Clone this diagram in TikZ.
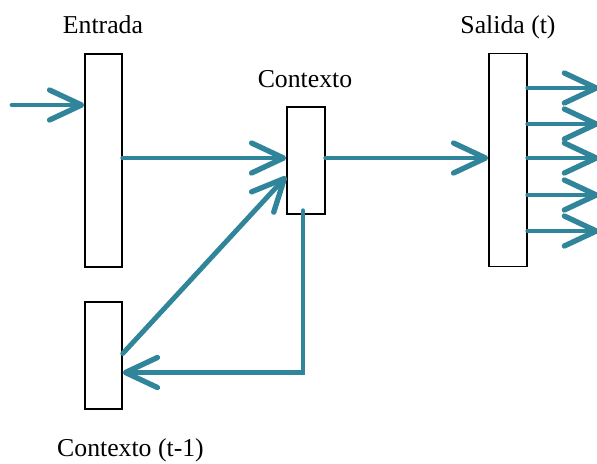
\documentclass[tikz,border=0pt]{standalone}
\usepackage{fontspec}
\setmainfont{Liberation Serif}
\usetikzlibrary{arrows.meta,calc}
\definecolor{azulflecha}{RGB}{49,133,155}

\begin{document}
\begin{tikzpicture}[x=0.025cm,y=-0.025cm,
    caja/.style={draw,line width=1.1pt,fill=white,minimum width=37*0.025cm,inner sep=0pt},
    flecha/.style={azulflecha,line width=3.5pt,line cap=round,
      -{Straight Barb[length=8mm,width=7.5mm,line width=3.8pt,line cap=round,line join=round]}},
    rotulo/.style={anchor=base,font=\fontsize{18.3}{22}\selectfont}]
  \useasboundingbox (0,0) rectangle (597,463);
  \node[caja,minimum height=213*0.025cm] (entrada) at (103.5,160.5) {};
  \node[caja,minimum height=107*0.025cm,minimum width=38*0.025cm] (contexto) at (306,160.5) {};
  \node[caja,minimum height=213*0.025cm,minimum width=38*0.025cm] (salida) at (508,160) {};
  \node[caja,minimum height=107*0.025cm] (previo) at (103.5,355.5) {};
  \node[rotulo] at (103,33) {Entrada};
  \node[rotulo] at (305,87) {Contexto};
  \node[rotulo] at (508,33) {Salida (t)};
  \node[rotulo] at (130.5,456) {Contexto (t-1)};
  \coordinate (in) at (12,105);
  \draw[flecha] (in) -- (entrada.west |- in);
  \draw[flecha] (entrada.east |- 0,158) -- (contexto.west |- 0,158);
  \draw[flecha] (contexto.east |- 0,158) -- (salida.west |- 0,158);
  \foreach \y in {88,124,158,195,231}
    \draw[flecha] (salida.east |- 0,\y) -- (599,\y);
  \draw[flecha] ($(previo.east)+(0,-2)$) -- ($(contexto.west)+(0,16)$);
  \draw[flecha] ($(contexto.south)+(-3,-4)$) |- ($(previo.east)+(0,17)$);
\end{tikzpicture}
\end{document}
